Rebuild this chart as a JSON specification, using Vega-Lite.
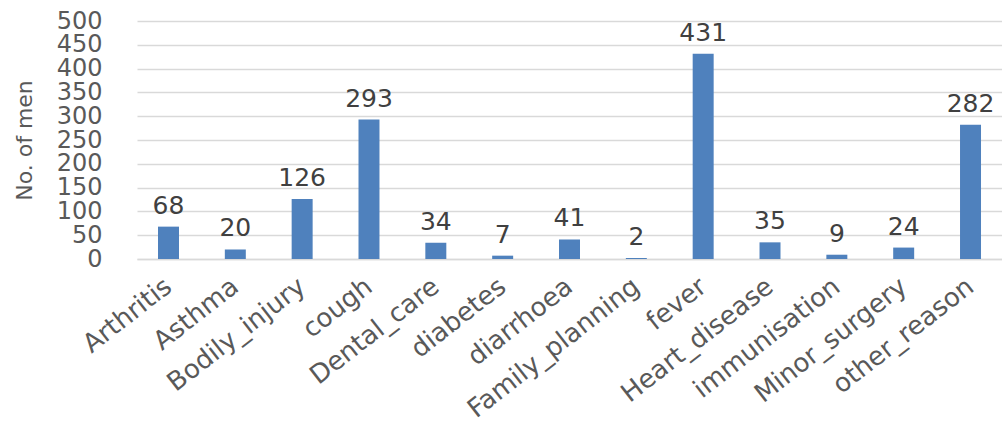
{
  "$schema": "https://vega.github.io/schema/vega-lite/v6.json",
  "autosize": "none",
  "width": 865,
  "height": 238,
  "padding": {"left": 137, "top": 21, "right": 0, "bottom": 164},
  "background": "white",
  "config": {
    "view": {"stroke": null},
    "font": "DejaVu Sans"
  },
  "data": {
    "values": [
      {"reason": "Arthritis", "men": 68},
      {"reason": "Asthma", "men": 20},
      {"reason": "Bodily_injury", "men": 126},
      {"reason": "cough", "men": 293},
      {"reason": "Dental_care", "men": 34},
      {"reason": "diabetes", "men": 7},
      {"reason": "diarrhoea", "men": 41},
      {"reason": "Family_planning", "men": 2},
      {"reason": "fever", "men": 431},
      {"reason": "Heart_disease", "men": 35},
      {"reason": "immunisation", "men": 9},
      {"reason": "Minor_surgery", "men": 24},
      {"reason": "other_reason", "men": 282}
    ]
  },
  "encoding": {
    "x": {
      "field": "reason",
      "type": "nominal",
      "sort": null,
      "scale": {"paddingInner": 0.686, "paddingOuter": 0.314},
      "axis": {
        "title": null,
        "labelAngle": -38,
        "labelAlign": "right",
        "labelBaseline": "middle",
        "labelFontSize": 26,
        "labelColor": "#595959",
        "labelFont": "DejaVu Sans",
        "labelPadding": 24,
        "labelDx": 8,
        "labelLimit": 400,
        "labelOverlap": false,
        "ticks": false,
        "domainColor": "#D9D9D9",
        "domainWidth": 1.5,
        "grid": false
      }
    },
    "y": {
      "field": "men",
      "type": "quantitative",
      "scale": {"domain": [0, 500]},
      "axis": {
        "title": "No. of men",
        "titleFontSize": 22,
        "titleFontWeight": "normal",
        "titleColor": "#595959",
        "titleAngle": -90,
        "titleX": -113,
        "titleY": 119,
        "titleAlign": "center",
        "titleBaseline": "middle",
        "values": [0, 50, 100, 150, 200, 250, 300, 350, 400, 450, 500],
        "labelFontSize": 24,
        "labelColor": "#595959",
        "labelPadding": 35,
        "labelBaseline": "middle",
        "labelOverlap": false,
        "ticks": false,
        "domain": false,
        "gridColor": "#D9D9D9",
        "gridWidth": 1.5
      }
    }
  },
  "layer": [
    {"mark": {"type": "bar", "color": "#4F81BD"}},
    {
      "mark": {"type": "text", "baseline": "bottom", "dy": -8, "fontSize": 25, "color": "#404040", "font": "DejaVu Sans"},
      "encoding": {"text": {"field": "men", "type": "quantitative"}}
    }
  ]
}
